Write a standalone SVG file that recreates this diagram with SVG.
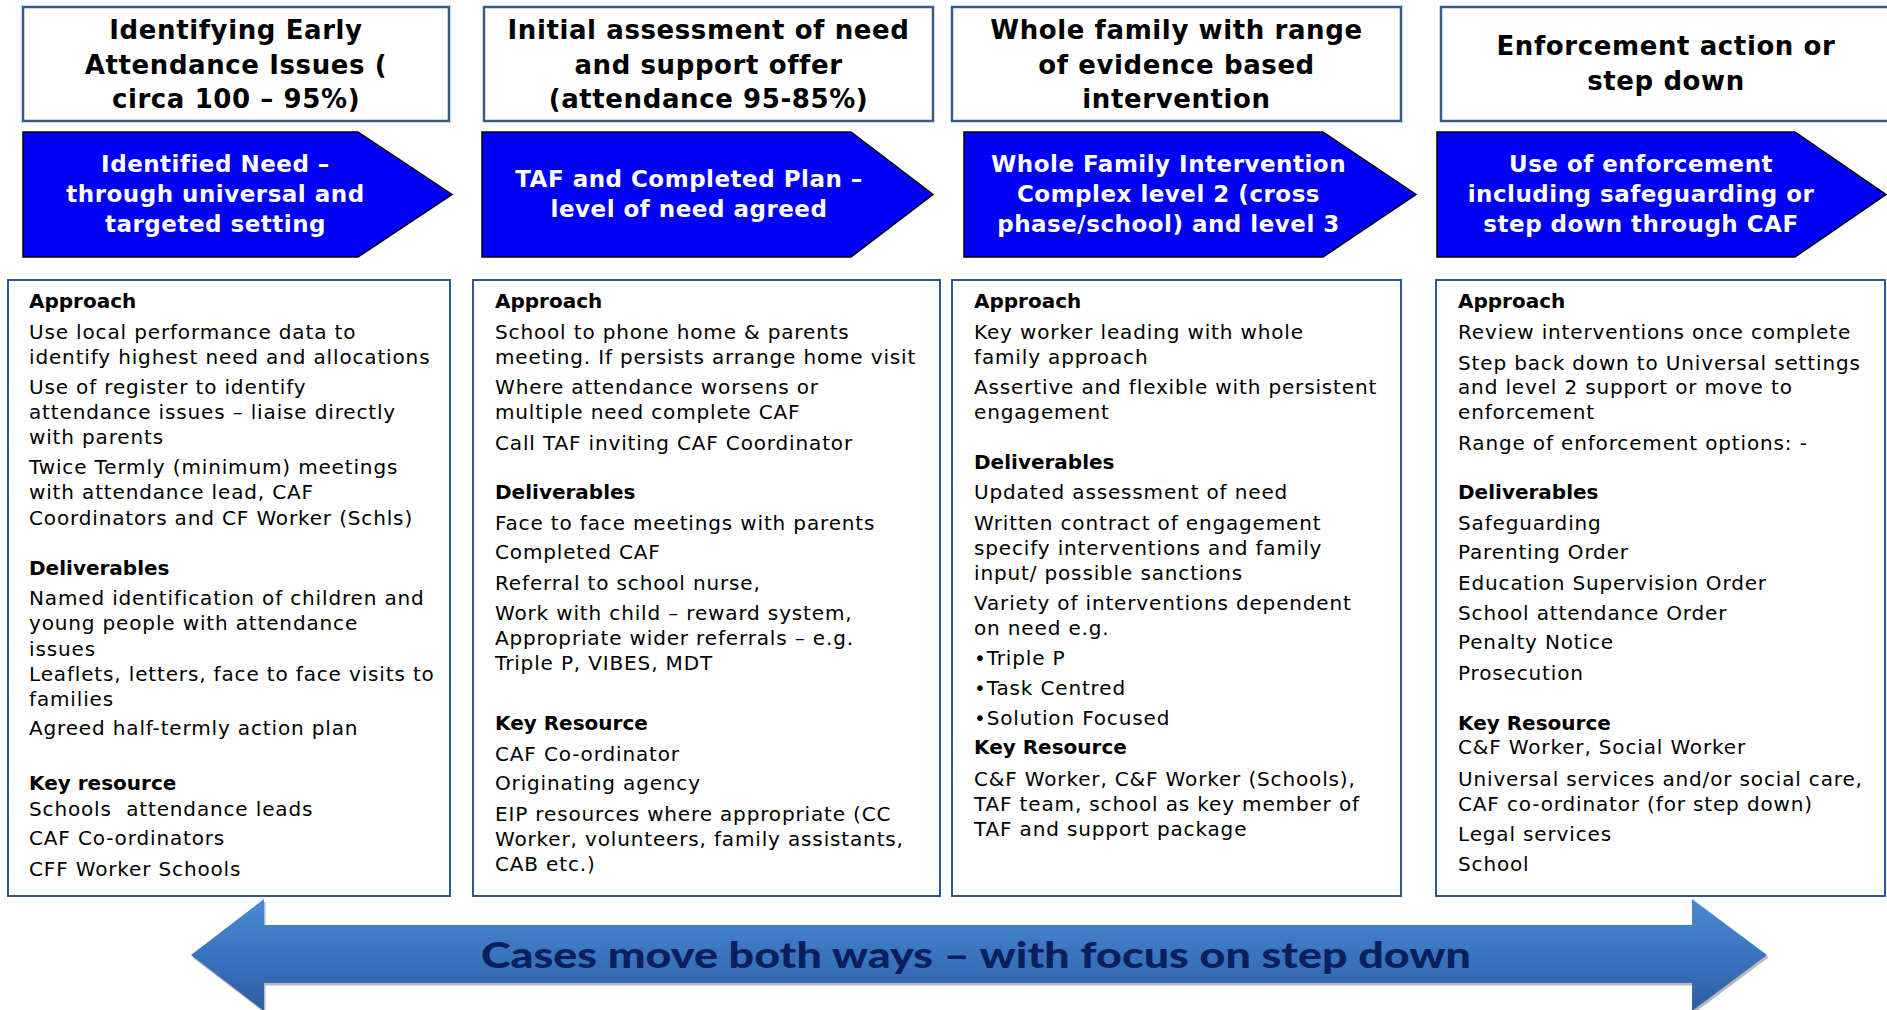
<svg xmlns="http://www.w3.org/2000/svg" width="1887" height="1010" viewBox="0 0 1887 1010">
<defs>
<linearGradient id="bigGrad" x1="0" y1="0" x2="0" y2="1">
<stop offset="0" stop-color="#4d8ad3"/>
<stop offset="0.5" stop-color="#3a74c0"/>
<stop offset="1" stop-color="#2d5e9f"/>
</linearGradient>
<style>
.hdr{fill:#ffffff;stroke:#385d8a;stroke-width:2.5}
.body{fill:#ffffff;stroke:#2e5597;stroke-width:2}
.pent{fill:#0000f5;stroke:#000000;stroke-width:1.5}
.ht{font-family:"DejaVu Sans",Verdana,sans-serif;font-weight:bold;font-size:26px;letter-spacing:0.6px;fill:#000;text-anchor:middle}
.at{font-family:"DejaVu Sans",Verdana,sans-serif;font-weight:bold;font-size:23px;letter-spacing:0.5px;fill:#fff;text-anchor:middle}
.bt{font-family:"DejaVu Sans",Verdana,sans-serif;font-size:20px;letter-spacing:0.85px;fill:#000}
.bh{font-family:"DejaVu Sans",Verdana,sans-serif;font-size:20px;font-weight:bold;fill:#000}
.big{font-family:Lato,"Liberation Sans",sans-serif;font-weight:900;font-size:36px;fill:#0a1f5c;text-anchor:middle}
</style>
</defs>
<rect width="1887" height="1010" fill="#ffffff"/>

<g id="header-1">
<rect class="hdr" x="23" y="7" width="426" height="114"/>
<text class="ht" x="236" y="39">Identifying Early</text>
<text class="ht" x="236" y="73.5">Attendance Issues (</text>
<text class="ht" x="236" y="108">circa 100 – 95%)</text>
</g>
<g id="header-2">
<rect class="hdr" x="484" y="7" width="449" height="114"/>
<text class="ht" x="708.5" y="39">Initial assessment of need</text>
<text class="ht" x="708.5" y="73.5">and support offer</text>
<text class="ht" x="708.5" y="108">(attendance 95-85%)</text>
</g>
<g id="header-3">
<rect class="hdr" x="952" y="7" width="449" height="114"/>
<text class="ht" x="1176.5" y="39">Whole family with range</text>
<text class="ht" x="1176.5" y="73.5">of evidence based</text>
<text class="ht" x="1176.5" y="108">intervention</text>
</g>
<g id="header-4">
<rect class="hdr" x="1441" y="7" width="452" height="114"/>
<text class="ht" x="1666" y="55">Enforcement action or</text>
<text class="ht" x="1666" y="90">step down</text>
</g>

<g id="stage-1">
<path class="pent" d="M23,132 H358 L452,194.5 L358,257 H23 Z"/>
<text class="at" x="215.5" y="172">Identified Need –</text>
<text class="at" x="215.5" y="202">through universal and</text>
<text class="at" x="215.5" y="232">targeted setting</text>
</g>
<g id="stage-2">
<path class="pent" d="M482,132 H851 L933,194.5 L851,257 H482 Z"/>
<text class="at" x="689" y="187">TAF and Completed Plan –</text>
<text class="at" x="689" y="217">level of need agreed</text>
</g>
<g id="stage-3">
<path class="pent" d="M964,132 H1323 L1416,194.5 L1323,257 H964 Z"/>
<text class="at" x="1168.5" y="172">Whole Family Intervention</text>
<text class="at" x="1168.5" y="202">Complex level 2 (cross</text>
<text class="at" x="1168.5" y="232">phase/school) and level 3</text>
</g>
<g id="stage-4">
<path class="pent" d="M1437,132 H1795 L1886,194.5 L1795,257 H1437 Z"/>
<text class="at" x="1641" y="172">Use of enforcement</text>
<text class="at" x="1641" y="202">including safeguarding or</text>
<text class="at" x="1641" y="232">step down through CAF</text>
</g>

<g id="detail-1">
<rect class="body" x="8" y="280" width="442" height="616"/>
<text class="bh" x="29" y="307.5">Approach</text>
<text class="bt" x="29" y="339">Use local performance data to</text>
<text class="bt" x="29" y="364">identify highest need and allocations</text>
<text class="bt" x="29" y="394">Use of register to identify</text>
<text class="bt" x="29" y="419">attendance issues – liaise directly</text>
<text class="bt" x="29" y="444">with parents</text>
<text class="bt" x="29" y="474">Twice Termly (minimum) meetings</text>
<text class="bt" x="29" y="499">with attendance lead, CAF</text>
<text class="bt" x="29" y="524.5">Coordinators and CF Worker (Schls)</text>
<text class="bh" x="29" y="575">Deliverables</text>
<text class="bt" x="29" y="605">Named identification of children and</text>
<text class="bt" x="29" y="630">young people with attendance</text>
<text class="bt" x="29" y="655.5">issues</text>
<text class="bt" x="29" y="681">Leaflets, letters, face to face visits to</text>
<text class="bt" x="29" y="705.5">families</text>
<text class="bt" x="29" y="735">Agreed half-termly action plan</text>
<text class="bh" x="29" y="790">Key resource</text>
<text class="bt" x="29" y="815.5" style="white-space:pre">Schools  attendance leads</text>
<text class="bt" x="29" y="845">CAF Co-ordinators</text>
<text class="bt" x="29" y="875.5">CFF Worker Schools</text>
</g>

<g id="detail-2">
<rect class="body" x="473" y="280" width="467" height="616"/>
<text class="bh" x="495" y="307.5">Approach</text>
<text class="bt" x="495" y="339">School to phone home &amp; parents</text>
<text class="bt" x="495" y="364">meeting. If persists arrange home visit</text>
<text class="bt" x="495" y="394">Where attendance worsens or</text>
<text class="bt" x="495" y="419">multiple need complete CAF</text>
<text class="bt" x="495" y="449.5">Call TAF inviting CAF Coordinator</text>
<text class="bh" x="495" y="499">Deliverables</text>
<text class="bt" x="495" y="530">Face to face meetings with parents</text>
<text class="bt" x="495" y="559">Completed CAF</text>
<text class="bt" x="495" y="590">Referral to school nurse,</text>
<text class="bt" x="495" y="619.5">Work with child – reward system,</text>
<text class="bt" x="495" y="645">Appropriate wider referrals – e.g.</text>
<text class="bt" x="495" y="670">Triple P, VIBES, MDT</text>
<text class="bh" x="495" y="730">Key Resource</text>
<text class="bt" x="495" y="761">CAF Co-ordinator</text>
<text class="bt" x="495" y="790">Originating agency</text>
<text class="bt" x="495" y="820.5">EIP resources where appropriate (CC</text>
<text class="bt" x="495" y="846">Worker, volunteers, family assistants,</text>
<text class="bt" x="495" y="870.5">CAB etc.)</text>
</g>

<g id="detail-3">
<rect class="body" x="952" y="280" width="449" height="616"/>
<text class="bh" x="974" y="307.5">Approach</text>
<text class="bt" x="974" y="339">Key worker leading with whole</text>
<text class="bt" x="974" y="364">family approach</text>
<text class="bt" x="974" y="394">Assertive and flexible with persistent</text>
<text class="bt" x="974" y="419">engagement</text>
<text class="bh" x="974" y="468.5">Deliverables</text>
<text class="bt" x="974" y="499">Updated assessment of need</text>
<text class="bt" x="974" y="530">Written contract of engagement</text>
<text class="bt" x="974" y="555">specify interventions and family</text>
<text class="bt" x="974" y="579.5">input/ possible sanctions</text>
<text class="bt" x="974" y="610">Variety of interventions dependent</text>
<text class="bt" x="974" y="635">on need e.g.</text>
<text class="bt" x="974" y="664.5">•Triple P</text>
<text class="bt" x="974" y="695">•Task Centred</text>
<text class="bt" x="974" y="725">•Solution Focused</text>
<text class="bh" x="974" y="754">Key Resource</text>
<text class="bt" x="974" y="785.5">C&amp;F Worker, C&amp;F Worker (Schools),</text>
<text class="bt" x="974" y="810.5">TAF team, school as key member of</text>
<text class="bt" x="974" y="836">TAF and support package</text>
</g>

<g id="detail-4">
<rect class="body" x="1436" y="280" width="449" height="616"/>
<text class="bh" x="1458" y="307.5">Approach</text>
<text class="bt" x="1458" y="339">Review interventions once complete</text>
<text class="bt" x="1458" y="369.5">Step back down to Universal settings</text>
<text class="bt" x="1458" y="394">and level 2 support or move to</text>
<text class="bt" x="1458" y="419">enforcement</text>
<text class="bt" x="1458" y="449.5">Range of enforcement options: -</text>
<text class="bh" x="1458" y="499">Deliverables</text>
<text class="bt" x="1458" y="530">Safeguarding</text>
<text class="bt" x="1458" y="559">Parenting Order</text>
<text class="bt" x="1458" y="590">Education Supervision Order</text>
<text class="bt" x="1458" y="619.5">School attendance Order</text>
<text class="bt" x="1458" y="649">Penalty Notice</text>
<text class="bt" x="1458" y="679.5">Prosecution</text>
<text class="bh" x="1458" y="730">Key Resource</text>
<text class="bt" x="1458" y="754">C&amp;F Worker, Social Worker</text>
<text class="bt" x="1458" y="785.5">Universal services and/or social care,</text>
<text class="bt" x="1458" y="810.5">CAF co-ordinator (for step down)</text>
<text class="bt" x="1458" y="841">Legal services</text>
<text class="bt" x="1458" y="870.5">School</text>
</g>

<g id="connectors"></g>

<g id="flow-arrow">
<path d="M191,955 L264,899 V925 H1692 V899 L1767,955 L1692,1011 V983 H264 V1011 Z" fill="#7f7f7f" opacity="0.55" transform="translate(1.5,2.5)"/>
<path d="M191,955 L264,899 V925 H1692 V899 L1767,955 L1692,1011 V983 H264 V1011 Z" fill="url(#bigGrad)"/>
<text class="big" x="976" y="968" textLength="990" lengthAdjust="spacingAndGlyphs">Cases move both ways – with focus on step down</text>
</g>
</svg>
